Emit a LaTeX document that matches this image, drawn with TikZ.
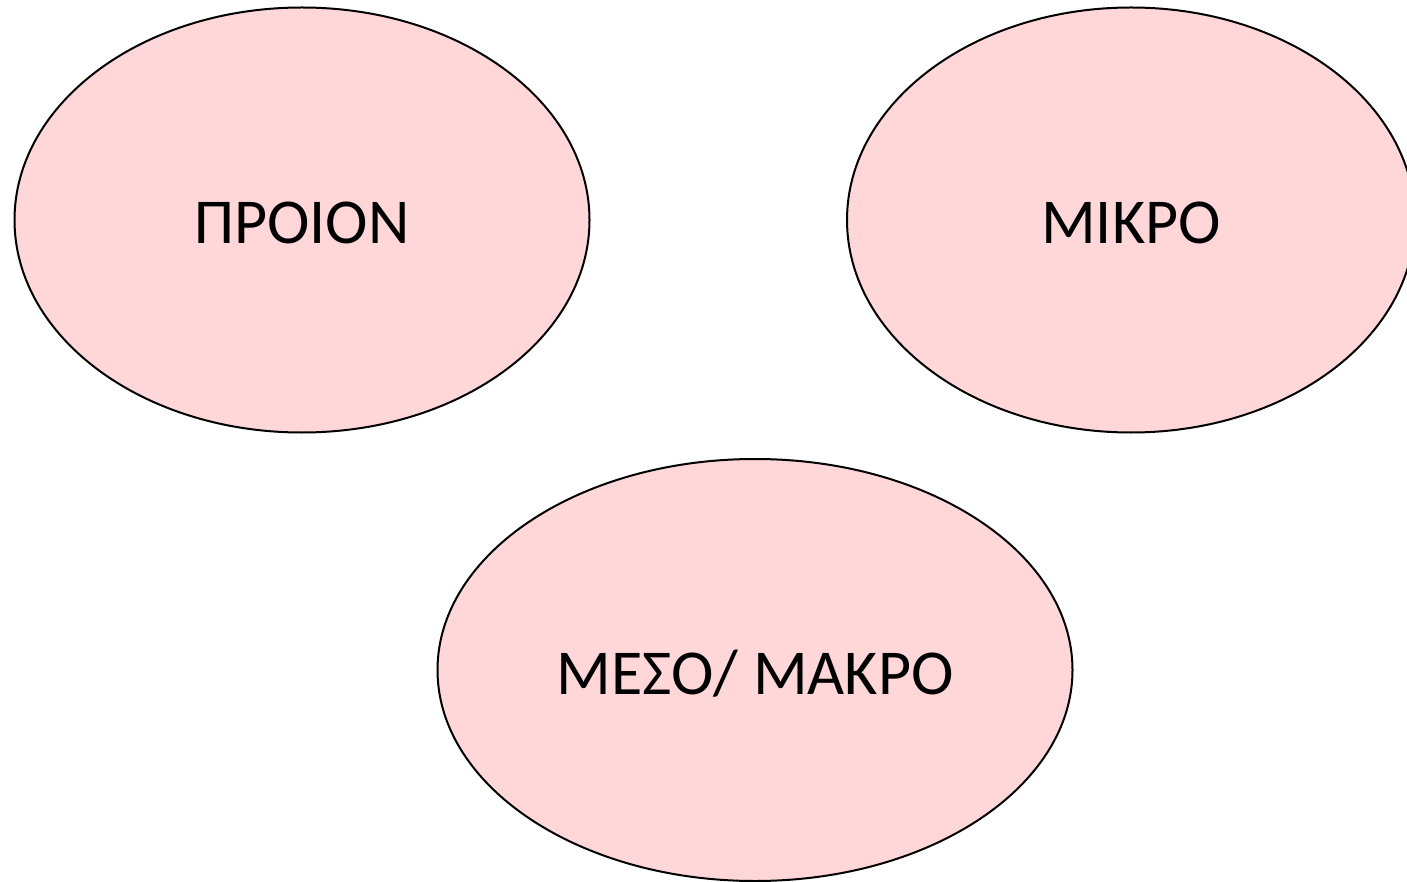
\documentclass[tikz,border=0pt]{standalone}
\usepackage{fontspec}
\setmainfont{Carlito}
\usetikzlibrary{shapes.geometric}
\definecolor{bubblefill}{RGB}{255,215,216}
\tikzset{
  bubble/.style={ellipse, draw=black, line width=2pt, fill=bubblefill,
    inner sep=0pt, text height=48pt, text depth=0pt,
    font=\fontsize{64}{72}\selectfont}
}
\begin{document}
\begin{tikzpicture}[x=1pt,y=-1pt]
  \useasboundingbox (0,0) rectangle (1407,882);
  \begin{scope}
    \clip (0,0) rectangle (1407,882);
    \node[bubble, minimum width=575pt, minimum height=425pt] (product) at (302,220) {ΠΡΟΙΟΝ};
    \node[bubble, minimum width=568pt, minimum height=425pt] (micro) at (1131,220) {ΜΙΚΡΟ};
    \node[bubble, minimum width=635pt, minimum height=422pt] (mesomacro) at (755,670) {ΜΕΣΟ/ ΜΑΚΡΟ};
  \end{scope}
\end{tikzpicture}
\end{document}
